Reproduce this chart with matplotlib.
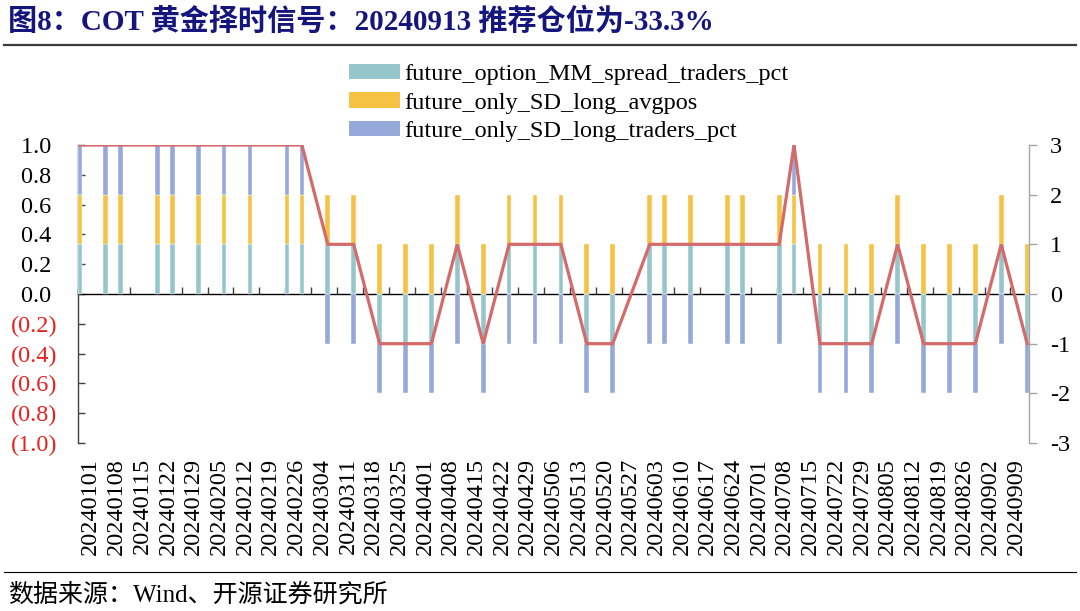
import datetime as dt
import matplotlib
matplotlib.use('Agg')
import matplotlib.pyplot as plt
from matplotlib.patches import Patch
from matplotlib.lines import Line2D

# ---------------- data ----------------
dates = ['20240101', '20240108', '20240112', '20240122', '20240126', '20240202',
         '20240209', '20240216', '20240226', '20240301', '20240308', '20240315',
         '20240322', '20240329', '20240405', '20240412', '20240419', '20240426',
         '20240503', '20240510', '20240517', '20240524', '20240603', '20240607',
         '20240614', '20240624', '20240628', '20240708', '20240712', '20240719',
         '20240726', '20240802', '20240809', '20240816', '20240823', '20240830',
         '20240906', '20240913']
mm_spread_traders_pct = [1, 1, 1, 1, 1, 1, 1, 1, 1, 1, 1, 1, -1, -1, -1, 1, -1, 1, 1, 1,
                         -1, -1, 1, 1, 1, 1, 1, 1, 1, -1, -1, -1, 1, -1, -1, -1, 1, -1]
sd_long_avgpos = [1, 1, 1, 1, 1, 1, 1, 1, 1, 1, 1, 1, 1, 1, 1, 1, 1, 1, 1, 1,
                  1, 1, 1, 1, 1, 1, 1, 1, 1, 1, 1, 1, 1, 1, 1, 1, 1, 1]
sd_long_traders_pct = [1, 1, 1, 1, 1, 1, 1, 1, 1, 1, -1, -1, -1, -1, -1, -1, -1, -1, -1, -1,
                       -1, -1, -1, -1, -1, -1, -1, -1, 1, -1, -1, -1, -1, -1, -1, -1, -1, -1]
week_labels = ['20240101', '20240108', '20240115', '20240122', '20240129', '20240205',
               '20240212', '20240219', '20240226', '20240304', '20240311', '20240318',
               '20240325', '20240401', '20240408', '20240415', '20240422', '20240429',
               '20240506', '20240513', '20240520', '20240527', '20240603', '20240610',
               '20240617', '20240624', '20240701', '20240708', '20240715', '20240722',
               '20240729', '20240805', '20240812', '20240819', '20240826', '20240902',
               '20240909']
series_names = ['future_option_MM_spread_traders_pct', 'future_only_SD_long_avgpos',
                'future_only_SD_long_traders_pct']
series_colors = ['#96C5CB', '#F6C244', '#94A9DA']
line_color = '#D46A6A'
title = '图8：COT 黄金择时信号：20240913 推荐仓位为-33.3%'
source = '数据来源：Wind、开源证券研究所'

# ---------------- helpers ----------------
FONT = ['Liberation Serif', 'Noto Sans CJK SC', 'DejaVu Sans']
plt.rcParams['font.family'] = FONT
plt.rcParams['axes.unicode_minus'] = False

origin = dt.datetime.strptime(week_labels[0], '%Y%m%d')
def day(s):
    return (dt.datetime.strptime(s, '%Y%m%d') - origin).days

xs = [day(d) + 0.5 for d in dates]
x_end = day(dates[-1]) + 1
week_ticks = [day(w) for w in week_labels]
n_lab = len(week_labels)
label_pos = [(i + 0.5) * x_end / n_lab for i in range(n_lab)]

W, H = 1080, 611
fig = plt.figure(figsize=(W / 100, H / 100), dpi=100)
ax = fig.add_axes([78 / W, 1 - 443 / H, (1029 - 78) / W, (443 - 145) / H])
ax2 = ax.twinx()

series = [mm_spread_traders_pct, sd_long_avgpos, sd_long_traders_pct]
pos_base = [0.0] * len(dates)
neg_base = [0.0] * len(dates)
for vals, color in zip(series, series_colors):
    heights = [v / 3 for v in vals]
    bottoms = [pos_base[i] if h >= 0 else neg_base[i] for i, h in enumerate(heights)]
    ax.bar(xs, heights, bottom=bottoms, width=1.25, color=color,
           edgecolor='white', linewidth=0.3, zorder=3)
    for i, h in enumerate(heights):
        if h >= 0:
            pos_base[i] += h
        else:
            neg_base[i] += h

total = [a + b + c for a, b, c in zip(*series)]
ax2.plot(xs, total, color=line_color, lw=2.3, zorder=5, solid_joinstyle='miter')

# ---------------- axes styling ----------------
FS = 17.5
ax.set_xlim(0, x_end)
ax.set_ylim(-1, 1)
ax2.set_ylim(-3, 3)

yt = [1.0, 0.8, 0.6, 0.4, 0.2, 0.0, -0.2, -0.4, -0.6, -0.8, -1.0]
ax.tick_params(axis='y', direction='in', length=5, width=1, color='#404040',
               labelsize=FS, pad=15)
ax.set_yticks(yt)
ax.set_yticklabels([f'{v:.1f} ' if v >= 0 else f'({abs(v):.1f})' for v in yt])
for lab, v in zip(ax.get_yticklabels(), yt):
    lab.set_color('black' if v >= 0 else '#E8201E')

ax2.tick_params(axis='y', direction='out', length=6, width=1, color='#A6A6A6',
                labelsize=FS, pad=9)
ax2.set_yticks([3, 2, 1, 0, -1, -2, -3])
ax2.set_yticklabels(['3', '2', '1', '0', '-1', '-2', '-3'])

# week tick marks on the zero line (major), labels evenly spread (minor)
ax.set_xticks(week_ticks)
ax.set_xticklabels([])
ax.tick_params(axis='x', which='major', direction='in', length=5, width=1,
               color='#404040')
ax.set_xticks(label_pos, minor=True)
ax.tick_params(axis='x', which='minor', length=0, labelsize=FS, pad=118,
               labelrotation=90)
ax.set_xticklabels(week_labels, minor=True, rotation=90, ha='center', va='top')

ax.spines['bottom'].set_position(('data', 0))
ax.spines['bottom'].set_color('black')
ax.spines['bottom'].set_linewidth(1.0)
ax.spines['bottom'].set_zorder(2)
ax.spines['left'].set_color('#404040')
ax.spines['left'].set_linewidth(1.0)
for s in ['top', 'right']:
    ax.spines[s].set_visible(False)
for s in ['top', 'left', 'bottom']:
    ax2.spines[s].set_visible(False)
ax2.spines['right'].set_color('#A6A6A6')
ax2.spines['right'].set_linewidth(1.0)

# ---------------- legend ----------------
handles = [Patch(facecolor=c, edgecolor='none') for c in series_colors]
fig.legend(handles, series_names, loc='upper left',
           bbox_to_anchor=(349 / W, 1 - 64 / H), frameon=False, fontsize=FS,
           handlelength=2.1, handleheight=0.58, handletextpad=0.17,
           labelspacing=0.3, borderpad=0, borderaxespad=0)

# ---------------- title / source ----------------
fig.text(8 / W, 1 - 22 / H, title, fontsize=21, fontweight='bold', color='#15157E',
         va='center', ha='left', family=FONT)
fig.add_artist(Line2D([4 / W, 1076 / W], [1 - 44.5 / H] * 2, transform=fig.transFigure,
                      color='#3C3C3C', lw=1.6))
fig.add_artist(Line2D([4 / W, 1076 / W], [1 - 572 / H] * 2, transform=fig.transFigure,
                      color='black', lw=0.8))
fig.text(8 / W, 1 - 595 / H, source, fontsize=18, color='black',
         va='center', ha='left', family=FONT)

fig.savefig('out.png', dpi=100)
